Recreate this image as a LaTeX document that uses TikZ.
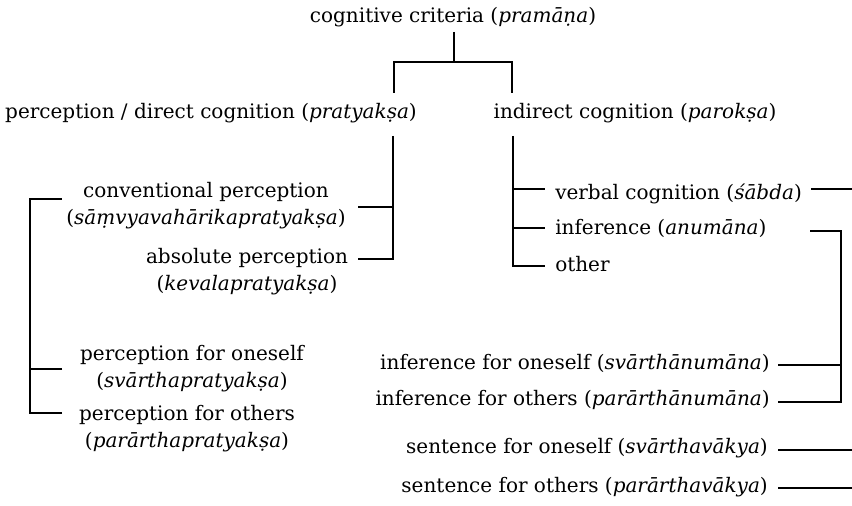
\documentclass[tikz,border=0pt]{standalone}
\usepackage{fontspec}
\setmainfont{DejaVu Serif}
\usetikzlibrary{positioning}

\begin{document}
\begin{tikzpicture}[
  x=0.75pt, y=-0.75pt,
  font=\fontsize{15}{20.25}\selectfont,
  T/.style={inner sep=0pt, align=center},
  L/.style={line width=0.9pt},
]
\useasboundingbox (0,0) rectangle (852,506);

\node[T, anchor=base] (crit) at (453,23) {cognitive criteria (\textit{pramāṇa})};
\node[T, anchor=base] (pra) at (211,118) {perception / direct cognition (\textit{pratyakṣa})};
\node[T, anchor=base] (par) at (635,118) {indirect cognition (\textit{parokṣa})};

\draw[L] (crit.base) ++(1,9) -- ++(0,30) coordinate (fork);
\draw[L] (fork) ++(-60,31) -- ++(0,-31) -- ++(118,0) -- ++(0,31);

% direct cognition
\node[T, anchor=base] (conv) at (206,224)
      {conventional perception\\(\textit{sāṃvyavahārikapratyakṣa})};
\node[T, anchor=base] (abs) at (247,290)
      {absolute perception\\(\textit{kevalapratyakṣa})};
\node[T, anchor=base] (selfp) at (192,387)
      {perception for oneself\\(\textit{svārthapratyakṣa})};
\node[T, anchor=base] (othp) at (187,447)
      {perception for others\\(\textit{parārthapratyakṣa})};

\draw[L] (pra.base) ++(182,18) coordinate (pspine) -- ++(0,123) -- ++(-35,0);
\draw[L] (pspine) ++(0,71) -- ++(-35,0);

\draw[L] (othp.base) ++(-125,-34) -- ++(-32,0) -- ++(0,-214) -- ++(32,0);
\draw[L] (selfp.base) ++(-130,-18) -- ++(-32,0);

% indirect cognition
\node[T, anchor=base west] (verb) at (555,199) {verbal cognition (\textit{śābda})};
\node[T, anchor=base west] (inf) at (555,234) {inference (\textit{anumāna})};
\node[T, anchor=base west] (oth) at (555,271) {other};

\draw[L] (par.base) ++(-122,18) coordinate (qspine) -- ++(0,130) -- ++(32,0);
\draw[L] (qspine) ++(0,53) -- ++(32,0);
\draw[L] (qspine) ++(0,92) -- ++(32,0);

\draw[L] (verb.base east) ++(9,-10) -- ++(48,0);

\node[T, anchor=base east] (isv) at (770,369) {inference for oneself (\textit{svārthānumāna})};
\node[T, anchor=base east] (ipa) at (770,405) {inference for others (\textit{parārthānumāna})};
\node[T, anchor=base east] (ssv) at (768,453) {sentence for oneself (\textit{svārthavākya})};
\node[T, anchor=base east] (spa) at (768,492) {sentence for others (\textit{parārthavākya})};

\draw[L] (ipa.base east) ++(8,-3) -- ++(63,0) -- ++(0,-171) -- ++(-31,0);
\draw[L] (isv.base east) ++(8,-4) -- ++(63,0);

\draw[L] (ssv.base east) ++(10,-3) -- ++(74,0);
\draw[L] (spa.base east) ++(10,-4) -- ++(74,0);

\end{tikzpicture}
\end{document}
